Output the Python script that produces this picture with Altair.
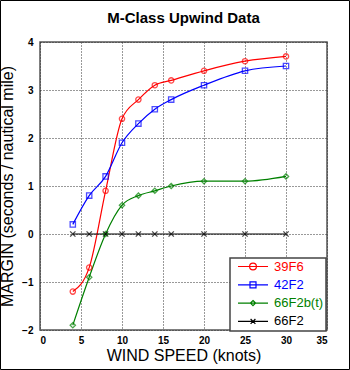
import altair as alt
import pandas as pd

wind = [4, 6, 8, 10, 12, 14, 16, 20, 25, 30]
s_39F6 = [-1.2, -0.7, 0.9, 2.4, 2.8, 3.1, 3.2, 3.4, 3.6, 3.7]
s_42F2 = [0.2, 0.8, 1.2, 1.9, 2.3, 2.6, 2.8, 3.1, 3.4, 3.5]
s_66F2bt = [-1.9, -0.9, 0.0, 0.6, 0.8, 0.9, 1.0, 1.1, 1.1, 1.2]
s_66F2 = [0, 0, 0, 0, 0, 0, 0, 0, 0, 0]

names = ["39F6", "42F2", "66F2b(t)", "66F2"]
colors = ["#ff0000", "#0000ff", "#008000", "#000000"]
plot_shapes = ["circle", "square", "diamond", "M-1,-1L1,1M-1,1L1,-1"]
legend_shapes = [
    "M-0.75,0L0.75,0M-0.17,0A0.17,0.17 0 1 1 0.17,0A0.17,0.17 0 1 1 -0.17,0",
    "M-0.75,0L0.75,0M-0.15,-0.15L0.15,-0.15L0.15,0.15L-0.15,0.15Z",
    "M-0.75,0L0.75,0M0,-0.13L0.13,0L0,0.13L-0.13,0Z",
    "M-0.75,0L0.75,0M-0.12,-0.12L0.12,0.12M-0.12,0.12L0.12,-0.12",
]

rows = []
for n, vals in zip(names, [s_39F6, s_42F2, s_66F2bt, s_66F2]):
    for x, y in zip(wind, vals):
        rows.append({"wind": x, "margin": y, "series": n})
df = pd.DataFrame(rows)

W, H = 287, 288
font = "Liberation Sans"

xenc = alt.X("wind:Q", scale=alt.Scale(domain=[0, 35], nice=False),
             axis=alt.Axis(values=list(range(0, 36, 5)), title="WIND SPEED (knots)"))
yenc = alt.Y("margin:Q", scale=alt.Scale(domain=[-2, 4], nice=False),
             axis=alt.Axis(values=list(range(-2, 5)), title="MARGIN (seconds / nautical mile)"))

cscale = alt.Scale(domain=names, range=colors)

base = alt.Chart(df)

lines = base.mark_line(interpolate="monotone", strokeWidth=1.2).encode(
    x=xenc, y=yenc,
    color=alt.Color("series:N", scale=cscale, legend=None),
    detail="series:N",
)

points = base.mark_point(filled=False, size=28, strokeWidth=1.3).encode(
    x=xenc, y=yenc,
    color=alt.Color("series:N", scale=cscale, legend=None),
    shape=alt.Shape("series:N", scale=alt.Scale(domain=names, range=plot_shapes), legend=None),
)

label_expr = ("datum.value == '39F6' ? '#ff0000' : datum.value == '42F2' ? '#0000ff' : "
              "datum.value == '66F2b(t)' ? '#008000' : '#000000'")

legend_layer = base.mark_point(filled=False, size=1600, opacity=0).encode(
    x=xenc, y=yenc,
    color=alt.Color("series:N", scale=cscale,
                    legend=alt.Legend(title=None, orient="none", legendX=190, legendY=216,
                                      symbolSize=1600, symbolOpacity=1, symbolStrokeWidth=1.2,
                                      clipHeight=13, rowPadding=4.3, labelOffset=0,
                                      labelFontSize=13, labelFont=font,
                                      labelColor=alt.ExprRef(label_expr),
                                      padding=2, fillColor="white", strokeColor="#444")),
    shape=alt.Shape("series:N", scale=alt.Scale(domain=names, range=legend_shapes),
                    legend=alt.Legend(title=None, orient="none", legendX=190, legendY=216)),
)

border = alt.Chart(alt.Data(values=[{}])).mark_rect(fill=None, stroke="black", strokeWidth=1).encode(
    x=alt.value(-39.5), x2=alt.value(W + 22.5), y=alt.value(-41.5), y2=alt.value(H + 39.5)
)

chart = alt.layer(lines, points, legend_layer, border).resolve_scale(
    color="independent", shape="independent"
).properties(
    width=W, height=H,
    title=alt.TitleParams("M-Class Upwind Data", font=font, fontSize=15, fontWeight="bold",
                          anchor="middle", offset=-38, baseline="alphabetic", color="black"),
    autosize=alt.AutoSizeParams(type="none"),
    padding={"left": 40, "top": 42, "right": 23, "bottom": 40},
).configure_view(
    stroke="#555", strokeWidth=1.5
).configure_axis(
    domain=False, ticks=False, grid=True, gridColor="#333", gridDash=[1, 2], gridWidth=1,
    labelFont=font, labelFontSize=10, labelFontWeight="bold", labelColor="black",
    titleFont=font, titleFontSize=16, titleFontWeight="normal", titleColor="black",
).configure_axisX(
    labelPadding=5, titlePadding=2,
).configure_axisY(
    labelPadding=7, titlePadding=6,
).configure_legend(
    strokeWidth=1.5,
)

chart.save("out.html", embed_options={"renderer": "svg", "actions": False})
